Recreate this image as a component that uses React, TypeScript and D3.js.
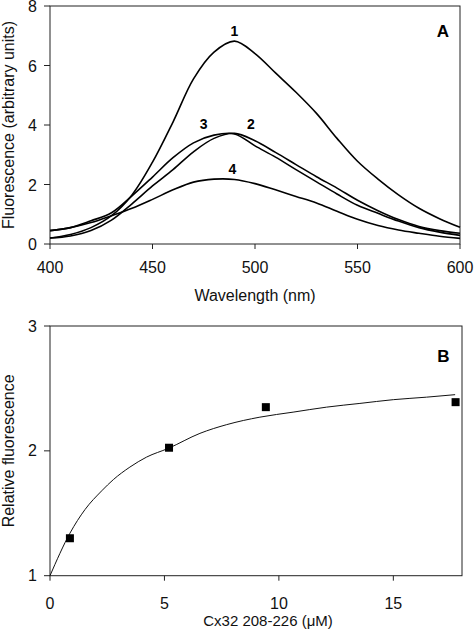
import React from "react";
import * as d3 from "d3";

// Panel A: emission spectra
const wavelengths = [400, 410, 420, 430, 440, 450, 460, 470, 480, 490, 500, 510, 520, 530, 540, 550, 560, 570, 580, 590, 600];
const spectrum1 = [0.2, 0.32, 0.55, 0.95, 1.65, 2.75, 4.1, 5.55, 6.45, 6.82, 6.4, 5.75, 5.1, 4.39, 3.55, 2.78, 2.18, 1.65, 1.2, 0.85, 0.56];
const spectrum2 = [0.2, 0.27, 0.45, 0.8, 1.35, 1.95, 2.5, 3.1, 3.55, 3.72, 3.47, 3.08, 2.67, 2.26, 1.88, 1.47, 1.12, 0.82, 0.59, 0.45, 0.36];
const spectrum3 = [0.45, 0.55, 0.78, 1.05, 1.62, 2.25, 2.9, 3.4, 3.66, 3.7, 3.3, 2.92, 2.5, 2.09, 1.68, 1.3, 1.03, 0.77, 0.55, 0.4, 0.29];
const spectrum4 = [0.45, 0.55, 0.72, 0.95, 1.2, 1.5, 1.82, 2.08, 2.18, 2.17, 2.03, 1.82, 1.6, 1.38, 1.1, 0.83, 0.62, 0.47, 0.36, 0.26, 0.19];
const spectrumLabels = ["1", "2", "3", "4"];
const labelPos = [[490, 7.0], [498, 3.85], [475, 3.85], [489, 2.35]];
const xTicksA = [400, 450, 500, 550, 600];
const yTicksA = [0, 2, 4, 6, 8];

// Panel B: titration
const concentration = [0.87, 5.2, 9.43, 17.72];
const relFluor = [1.3, 2.025, 2.35, 2.39];
const fitX = [0, 0.87, 1.53, 2.26, 2.77, 3.49, 4.22, 5.17, 6.55, 7.72, 9.17, 10.62, 12.08, 13.54, 15.0, 16.45, 17.7];
const fitY = [1.0, 1.34, 1.53, 1.68, 1.77, 1.87, 1.95, 2.02, 2.14, 2.21, 2.27, 2.31, 2.35, 2.38, 2.41, 2.43, 2.45];
const xTicksB = [0, 5, 10, 15];
const yTicksB = [1, 2, 3];

const FONT = "'Liberation Sans', Arial, sans-serif";
const AX = "#222";

export default function App() {
  const xA = d3.scaleLinear().domain([400, 600]).range([50, 460]);
  const yA = d3.scaleLinear().domain([0, 8]).range([244, 6]);
  const xB = d3.scaleLinear().domain([0, 18]).range([50, 462]);
  const yB = d3.scaleLinear().domain([1, 3]).range([575.7, 326]);

  const spectra = [spectrum1, spectrum2, spectrum3, spectrum4];
  const lineA = d3
    .line<[number, number]>()
    .x((d) => xA(d[0]))
    .y((d) => yA(d[1]))
    .curve(d3.curveCatmullRom.alpha(0.5));
  const lineB = d3
    .line<[number, number]>()
    .x((d) => xB(d[0]))
    .y((d) => yB(d[1]))
    .curve(d3.curveMonotoneX);

  const [a0, a1] = xA.range();
  const [b0, b1] = xB.range();

  return (
    <svg
      width={475}
      height={630}
      style={{ position: "absolute", left: 0, top: 0, background: "#fff" }}
      fontFamily={FONT}
    >
      {/* Panel A */}
      <g>
        <rect x={a0} y={yA(8)} width={a1 - a0} height={yA(0) - yA(8)} fill="none" stroke={AX} strokeWidth={1} />
        {yTicksA.map((t) => (
          <g key={"ya" + t}>
            <line x1={a0 - 6} x2={a0} y1={yA(t)} y2={yA(t)} stroke={AX} />
            <text x={a0 - 13} y={yA(t)} dy="0.38em" textAnchor="end" fontSize={16} fill="#111">
              {t}
            </text>
          </g>
        ))}
        {xTicksA.map((t) => (
          <g key={"xa" + t}>
            <line x1={xA(t)} x2={xA(t)} y1={yA(0)} y2={yA(0) + 5} stroke={AX} />
            <text x={xA(t)} y={273} textAnchor="middle" fontSize={16} fill="#111">
              {t}
            </text>
          </g>
        ))}
        {spectra.map((s, i) => (
          <path
            key={"sp" + i}
            d={lineA(wavelengths.map((w, j) => [w, s[j]] as [number, number])) || ""}
            fill="none"
            stroke="#000"
            strokeWidth={1.6}
          />
        ))}
        {spectrumLabels.map((l, i) => (
          <text
            key={"lab" + l}
            x={xA(labelPos[i][0])}
            y={yA(labelPos[i][1])}
            textAnchor="middle"
            fontSize={14}
            fontWeight="bold"
            fill="#000"
          >
            {l}
          </text>
        ))}
        <text x={443} y={37} textAnchor="middle" fontSize={17} fontWeight="bold" fill="#000">
          A
        </text>
        <text x={255} y={301} textAnchor="middle" fontSize={16} fill="#111">
          Wavelength (nm)
        </text>
        <text
          transform={`translate(14,${(yA(0) + yA(8)) / 2}) rotate(-90)`}
          textAnchor="middle"
          fontSize={16}
          fill="#111"
        >
          Fluorescence (arbitrary units)
        </text>
      </g>

      {/* Panel B */}
      <g>
        <rect x={b0} y={yB(3)} width={b1 - b0} height={yB(1) - yB(3)} fill="none" stroke={AX} strokeWidth={1} />
        {yTicksB.map((t) => (
          <g key={"yb" + t}>
            <line x1={b0 - 6} x2={b0} y1={yB(t)} y2={yB(t)} stroke={AX} />
            <text x={b0 - 13} y={yB(t)} dy="0.35em" textAnchor="end" fontSize={16} fill="#111">
              {t}
            </text>
          </g>
        ))}
        {xTicksB.map((t) => (
          <g key={"xb" + t}>
            <line x1={xB(t)} x2={xB(t)} y1={yB(1)} y2={yB(1) + 5} stroke={AX} />
            <text x={xB(t)} y={609} textAnchor="middle" fontSize={16} fill="#111">
              {t}
            </text>
          </g>
        ))}
        <path
          d={lineB(fitX.map((x, j) => [x, fitY[j]] as [number, number])) || ""}
          fill="none"
          stroke="#111"
          strokeWidth={1}
        />
        {concentration.map((c, i) => (
          <rect key={"pt" + i} x={xB(c) - 4} y={yB(relFluor[i]) - 4} width={8} height={8} fill="#000" />
        ))}
        <text x={443.5} y={362} textAnchor="middle" fontSize={17} fontWeight="bold" fill="#000">
          B
        </text>
        <text x={268} y={626} textAnchor="middle" fontSize={15} fill="#111">
          Cx32 208-226 (μM)
        </text>
        <text
          transform={`translate(14,${(yB(1) + yB(3)) / 2}) rotate(-90)`}
          textAnchor="middle"
          fontSize={16}
          fill="#111"
        >
          Relative fluorescence
        </text>
      </g>
    </svg>
  );
}
